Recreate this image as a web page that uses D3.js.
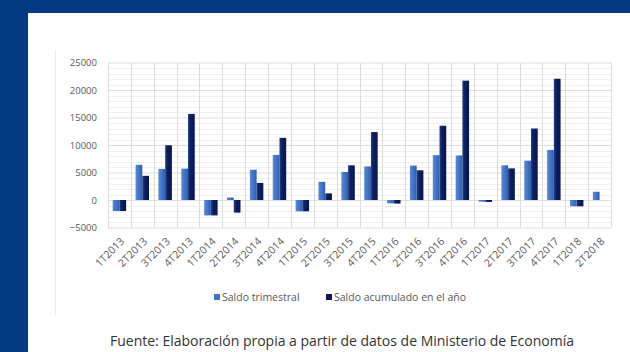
<!DOCTYPE html>
<html>
<head>
<meta charset="utf-8">
<script src="https://cdn.jsdelivr.net/npm/d3@7"></script>
<style>
  body { margin: 0; background: #fff; }
  svg { display: block; }
</style>
</head>
<body>
<div id="chart"></div>
<script>
// quarters on the x axis
const categories = ['1T2013', '2T2013', '3T2013', '4T2013', '1T2014', '2T2014', '3T2014', '4T2014',
    '1T2015', '2T2015', '3T2015', '4T2015', '1T2016', '2T2016', '3T2016', '4T2016',
    '1T2017', '2T2017', '3T2017', '4T2017', '1T2018', '2T2018'];

const saldoTrimestral = [-2000, 6400, 5650, 5700, -2800, 450, 5500, 8200,
    -2050, 3300, 5100, 6100, -600, 6250, 8150, 8100,
    -300, 6300, 7150, 9100, -1150, 1500];

const saldoAcumulado = [-2000, 4400, 9950, 15650, -2800, -2300, 3100, 11300,
    -2050, 1200, 6300, 12350, -650, 5400, 13500, 21700,
    -350, 5750, 13000, 22050, -1150, null];

const seriesNames = ['Saldo trimestral', 'Saldo acumulado en el año'];
const yTicks = [-5000, 0, 5000, 10000, 15000, 20000, 25000];
const sourceNote = 'Fuente: Elaboración propia a partir de datos de Ministerio de Economía';

const width = 630;
const height = 352;
const plot = { left: 108, right: 611, top: 62.5, bottom: 227.5 };
const font = '"Open Sans", sans-serif';

const svg = d3.select('#chart')
    .append('svg')
    .attr('width', width)
    .attr('height', height);

// blue page frame
svg.append('rect').attr('x', 0).attr('y', 0).attr('width', width).attr('height', 13).attr('fill', '#023a82');
svg.append('rect').attr('x', 0).attr('y', 0).attr('width', 28).attr('height', height).attr('fill', '#023a82');

// faint chart box
svg.append('line')
    .attr('x1', 55.5).attr('x2', 55.5).attr('y1', 50).attr('y2', 316)
    .attr('stroke', '#ececec');

// gradients for the bars
const defs = svg.append('defs');
function gradient(id, stops) {
    const g = defs.append('linearGradient').attr('id', id)
        .attr('x1', '0%').attr('x2', '100%').attr('y1', '0%').attr('y2', '0%');
    stops.forEach(s => g.append('stop').attr('offset', s[0]).attr('stop-color', s[1]));
}
gradient('gLight', [['0%', '#5a88d4'], ['55%', '#4172c4'], ['100%', '#2f5dab']]);
gradient('gDark', [['0%', '#26418a'], ['35%', '#0c1f5e'], ['100%', '#081650']]);
const fills = ['url(#gLight)', 'url(#gDark)'];

const x = d3.scaleBand()
    .domain(categories)
    .range([plot.left, plot.right])
    .padding(0);

const xSeries = d3.scaleBand()
    .domain([0, 1])
    .range([0, x.bandwidth()])
    .paddingInner(0)
    .paddingOuter(0.7);

const y = d3.scaleLinear()
    .domain([-5000, 25000])
    .range([plot.bottom, plot.top]);

// minor gridlines every 1000
const minor = d3.range(-5000, 25001, 1000).filter(v => v % 5000 !== 0);
svg.append('g')
    .selectAll('line')
    .data(minor)
    .enter()
    .append('line')
    .attr('x1', plot.left).attr('x2', plot.right)
    .attr('y1', d => Math.round(y(d)) + 0.5).attr('y2', d => Math.round(y(d)) + 0.5)
    .attr('stroke', '#f0f0f0');

// major gridlines
svg.append('g')
    .attr('transform', `translate(${plot.left},0)`)
    .call(d3.axisLeft(y).tickValues(yTicks).tickSize(-(plot.right - plot.left)).tickFormat(''))
    .call(g => g.select('.domain').remove())
    .call(g => g.selectAll('line').attr('stroke', '#dcdcdc'));

// vertical gridlines at category boundaries
svg.append('g')
    .selectAll('line')
    .data(categories.concat(['end']))
    .enter()
    .append('line')
    .attr('x1', (d, i) => Math.round(plot.left + i * x.step()) + 0.5)
    .attr('x2', (d, i) => Math.round(plot.left + i * x.step()) + 0.5)
    .attr('y1', plot.top)
    .attr('y2', plot.bottom)
    .attr('stroke', '#dcdcdc');

// bars
const seriesData = [saldoTrimestral, saldoAcumulado];
seriesData.forEach((values, s) => {
    svg.append('g')
        .selectAll('rect')
        .data(values.map((v, i) => ({ cat: categories[i], v })).filter(d => d.v !== null))
        .enter()
        .append('rect')
        .attr('x', d => x(d.cat) + xSeries(s))
        .attr('y', d => y(Math.max(0, d.v)))
        .attr('width', xSeries.bandwidth())
        .attr('height', d => Math.abs(y(d.v) - y(0)))
        .attr('fill', fills[s]);
});

// y axis labels
svg.append('g')
    .attr('transform', `translate(${plot.left},0)`)
    .call(d3.axisLeft(y).tickValues(yTicks).tickSize(0).tickPadding(11).tickFormat(d3.format('d')))
    .call(g => g.select('.domain').remove())
    .call(g => g.selectAll('text')
        .attr('fill', '#595959')
        .attr('font-size', '9.5px')
        .attr('font-family', font));

// x axis labels, rotated
svg.append('g')
    .attr('transform', `translate(0,${plot.bottom})`)
    .call(d3.axisBottom(x).tickSize(0))
    .call(g => g.select('.domain').remove())
    .call(g => g.selectAll('text')
        .attr('fill', '#595959')
        .attr('font-size', '10.5px')
        .attr('font-family', font)
        .attr('text-anchor', 'end')
        .attr('x', 0)
        .attr('y', 0)
        .attr('dy', '0.35em')
        .attr('transform', 'translate(3,12) rotate(-45)'));

// legend
const legendX = [214, 326];
const legend = svg.append('g');
seriesNames.forEach((name, i) => {
    legend.append('rect')
        .attr('x', legendX[i]).attr('y', 294)
        .attr('width', 6).attr('height', 6)
        .attr('fill', i === 0 ? '#4472c4' : '#0b1a55');
    legend.append('text')
        .attr('x', legendX[i] + 8).attr('y', 297)
        .attr('dy', '0.35em')
        .attr('fill', '#595959')
        .attr('font-size', '10.5px')
        .attr('font-family', font)
        .text(name);
});

// source note
svg.append('text')
    .attr('x', 342)
    .attr('y', 341)
    .attr('dy', '0.35em')
    .attr('text-anchor', 'middle')
    .attr('fill', '#333')
    .attr('font-size', '14px')
    .attr('font-family', font)
    .text(sourceNote);
</script>
</body>
</html>
